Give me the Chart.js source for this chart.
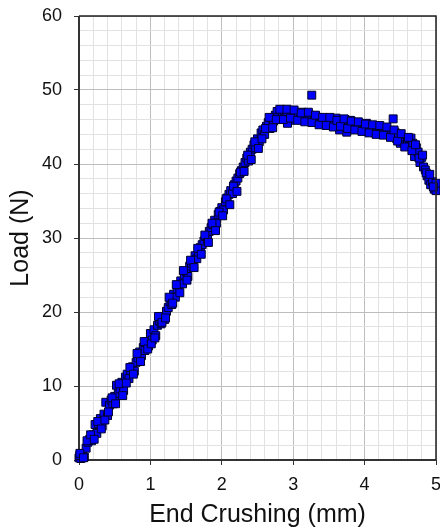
<!DOCTYPE html>
<html><head><meta charset="utf-8">
<script src="https://cdn.jsdelivr.net/npm/chart.js@4"></script>
<style>html,body{margin:0;padding:0;background:#fff}#wrap{width:440px;height:531px}</style>
</head><body><div id="wrap"><canvas id="c" width="440" height="531"></canvas></div>
<script>
const xValues = [0.000,0.025,0.050,0.075,0.100,0.125,0.150,0.175,0.200,0.225,0.250,0.275,0.300,0.325,0.350,0.375,0.400,0.425,0.450,0.475,
0.500,0.525,0.550,0.575,0.600,0.625,0.650,0.675,0.700,0.725,0.750,0.775,0.800,0.825,0.850,0.875,0.900,0.925,0.950,0.975,
1.000,1.025,1.050,1.075,1.100,1.125,1.150,1.175,1.200,1.225,1.250,1.275,1.300,1.325,1.350,1.375,1.400,1.425,1.450,1.475,
1.500,1.525,1.550,1.575,1.600,1.625,1.650,1.675,1.700,1.725,1.750,1.775,1.800,1.825,1.850,1.875,1.900,1.925,1.950,1.975,
2.000,2.025,2.050,2.075,2.100,2.125,2.150,2.175,2.200,2.225,2.250,2.275,2.300,2.325,2.350,2.375,2.400,2.425,2.450,2.475,
2.500,2.525,2.550,2.575,2.600,2.625,2.650,2.675,2.700,2.725,2.750,2.775,2.800,2.825,2.850,2.875,2.900,2.925,2.950,2.975,
3.000,3.025,3.050,3.075,3.100,3.125,3.150,3.175,3.200,3.225,3.250,3.275,3.300,3.325,3.350,3.375,3.400,3.425,3.450,3.475,
3.500,3.525,3.550,3.575,3.600,3.625,3.650,3.675,3.700,3.725,3.750,3.775,3.800,3.825,3.850,3.875,3.900,3.925,3.950,3.975,
4.000,4.025,4.050,4.075,4.100,4.125,4.150,4.175,4.200,4.225,4.250,4.275,4.300,4.325,4.350,4.375,4.400,4.425,4.450,4.475,
4.500,4.525,4.550,4.575,4.600,4.625,4.650,4.675,4.700,4.725,4.750,4.775,4.800,4.825,4.850,4.875,4.900,4.925,4.950,4.975,
5.000,5.000,3.260,0.010,2.920];
const loadValues = [0.3,0.2,0.8,0.4,1.6,2.4,2.8,2.6,3.4,4.8,3.6,4.9,5.6,4.6,6.2,7.8,6.0,7.4,8.1,7.6,
8.6,10.1,9.0,9.6,10.5,9.4,11.2,11.6,11.0,12.1,12.6,12.0,13.2,13.8,14.6,14.1,15.2,14.8,16.0,15.4,
17.1,16.2,17.6,16.8,18.2,18.8,18.4,19.4,19.0,20.1,20.6,21.4,21.0,22.4,22.0,23.1,23.6,24.2,23.8,25.0,
25.5,24.8,26.2,26.6,26.9,27.6,27.2,28.1,28.7,29.1,29.6,30.2,29.8,30.9,31.4,31.8,32.4,32.0,33.2,33.6,
34.1,33.8,34.9,35.4,35.9,36.4,36.0,37.2,37.7,38.1,38.7,39.1,39.6,40.2,40.8,40.4,41.6,42.0,42.6,42.2,
43.4,43.0,44.2,44.6,44.0,45.1,45.6,44.8,46.2,45.8,46.6,47.1,46.4,47.3,46.9,47.2,46.3,47.1,45.9,47.0,
46.6,46.9,46.2,46.8,46.0,47.0,46.4,46.7,45.9,46.6,46.2,46.1,46.5,45.8,46.3,45.6,46.0,45.7,45.4,46.1,
45.6,45.9,45.3,45.8,46.2,45.5,44.6,45.7,45.2,46.0,44.3,45.6,45.9,45.2,45.4,44.9,45.6,45.0,44.7,45.3,
44.8,45.5,44.4,45.1,44.6,45.2,44.2,44.8,45.0,44.4,44.9,44.1,44.6,44.0,44.5,43.8,46.1,44.3,43.4,44.0,
42.8,43.5,43.0,42.6,43.3,42.4,43.5,42.8,41.0,42.2,41.6,40.2,40.9,39.6,39.2,38.4,37.8,37.2,37.6,36.6,
36.4,37.4,49.3,0.6,45.5];
const xValues2 = [0.0125,0.0625,0.1125,0.1625,0.2125,0.2625,0.3125,0.3625,0.4125,0.4625,
0.5125,0.5625,0.6125,0.6625,0.7125,0.7625,0.8125,0.8625,0.9125,0.9625,
1.0125,1.0625,1.1125,1.1625,1.2125,1.2625,1.3125,1.3625,1.4125,1.4625,
1.5125,1.5625,1.6125,1.6625,1.7125,1.7625,1.8125,1.8625,1.9125,1.9625,
2.0125,2.0625,2.1125,2.1625,2.2125,2.2625,2.3125,2.3625,2.4125,2.4625,
2.5125,2.5625,2.6125,2.6625,2.7125,2.7625,2.8125,2.8625,2.9125,2.9625,
3.0125,3.0625,3.1125,3.1625,3.2125,3.2625,3.3125,3.3625,3.4125,3.4625,
3.5125,3.5625,3.6125,3.6625,3.7125,3.7625,3.8125,3.8625,3.9125,3.9625,
4.0125,4.0625,4.1125,4.1625,4.2125,4.2625,4.3125,4.3625,4.4125,4.4625,
4.5125,4.5625,4.6125,4.6625,4.7125,4.7625,4.8125,4.8625,4.9125,4.9625];
const loadValues2 = [0.9,0.3,2.6,3.4,2.8,5.2,4.2,5.4,6.5,8.4,
7.6,10.3,8.7,10.4,12.5,11.6,14.4,13.3,16.0,15.0,
15.7,16.5,19.4,18.6,19.2,22.0,21.2,23.7,22.6,25.6,
24.3,27.0,26.0,28.6,27.8,30.4,29.4,32.0,31.0,33.5,
33.0,35.3,34.5,37.0,36.3,38.9,39.0,41.2,40.6,43.0,
42.1,43.4,44.8,46.3,44.9,46.0,47.4,46.0,47.4,46.2,
47.3,45.9,46.9,45.7,47.0,45.6,46.6,45.3,46.3,45.2,
46.3,45.0,45.9,45.1,46.1,44.8,45.8,44.6,45.7,44.4,
45.4,44.2,45.3,44.0,45.2,43.9,45.0,43.6,44.6,43.1,
44.1,42.3,43.6,41.8,42.6,40.8,41.2,38.8,38.6,36.9];
const xTickLabels = ['0','1','2','3','4','5'];
const yTickLabels = ['0','10','20','30','40','50','60'];

const allX = xValues.concat(xValues2);
const allY = loadValues.concat(loadValues2);
const points = allX.map((x, i) => ({x: x, y: allY[i]}));
const FONT = "'Liberation Sans', Arial, sans-serif";

const framePlugin = {
  id: 'frame',
  afterDraw(chart) {
    const {ctx, chartArea: a} = chart;
    ctx.save();
    ctx.strokeStyle = '#222';
    ctx.lineWidth = 1.5;
    ctx.beginPath();
    ctx.moveTo(a.left, a.top); ctx.lineTo(a.right, a.top); ctx.lineTo(a.right, a.bottom);
    ctx.stroke();
    ctx.restore();
  },
  beforeDatasetsDraw(chart) {
    const {ctx, chartArea: a} = chart;
    ctx.save();
    ctx.strokeStyle = '#333';
    ctx.lineWidth = 2;
    ctx.beginPath();
    ctx.moveTo(a.left, a.top); ctx.lineTo(a.left, a.bottom); ctx.lineTo(a.right, a.bottom);
    ctx.stroke();
    ctx.restore();
  }
};

const isMajor = (v, step) => Math.abs(v / step - Math.round(v / step)) < 1e-6;
const zeroPad = () => ({left: 0, top: 0, right: 0, bottom: 0});

new Chart(document.getElementById('c'), {
  type: 'scatter',
  data: { datasets: [{
    data: points,
    pointStyle: 'rect',
    pointRadius: 5.6,
    pointHoverRadius: 5.6,
    backgroundColor: '#0000ff',
    borderColor: '#00002a',
    borderWidth: 1,
    clip: false
  }]},
  options: {
    responsive: false,
    animation: false,
    events: [],
    layout: { autoPadding: false, padding: { top: 16, right: 4, left: 0, bottom: 0 } },
    plugins: { legend: { display: false }, tooltip: { enabled: false } },
    scales: {
      x: {
        type: 'linear', min: 0, max: 5,
        ticks: {
          stepSize: 0.2, autoSkip: false, maxRotation: 0, padding: 9,
          color: '#111', font: { family: FONT, size: 18 },
          callback: v => isMajor(v, 1) ? xTickLabels[Math.round(v)] : ''
        },
        grid: {
          color: c => isMajor(c.tick.value, 1) ? '#bdbdbd' : '#e2e2e2',
          tickColor: c => isMajor(c.tick.value, 1) ? '#333' : 'rgba(0,0,0,0)',
          tickLength: 5, lineWidth: 1
        },
        border: { display: false },
        title: { display: true, text: 'End Crushing (mm)', color: '#111', font: { family: FONT, size: 25 }, padding: { top: 0, bottom: 1 } },
        afterFit: s => { s.height = 71; s.paddingLeft = 0; s.paddingRight = 0; s.getPadding = zeroPad; }
      },
      y: {
        type: 'linear', min: 0, max: 60,
        ticks: {
          stepSize: 2, autoSkip: false, padding: 12,
          color: '#111', font: { family: FONT, size: 18 },
          callback: v => isMajor(v, 10) ? yTickLabels[Math.round(v / 10)] : ''
        },
        grid: {
          color: c => isMajor(c.tick.value, 10) ? '#bdbdbd' : '#e2e2e2',
          tickColor: c => isMajor(c.tick.value, 10) ? '#333' : 'rgba(0,0,0,0)',
          tickLength: 5, lineWidth: 1
        },
        border: { display: false },
        title: { display: true, text: 'Load (N)', color: '#111', font: { family: FONT, size: 25 }, padding: { top: 6, bottom: 0 } },
        afterFit: s => { s.width = 79; s.paddingTop = 0; s.paddingBottom = 0; s.getPadding = zeroPad; }
      }
    }
  },
  plugins: [framePlugin]
});
</script></body></html>
